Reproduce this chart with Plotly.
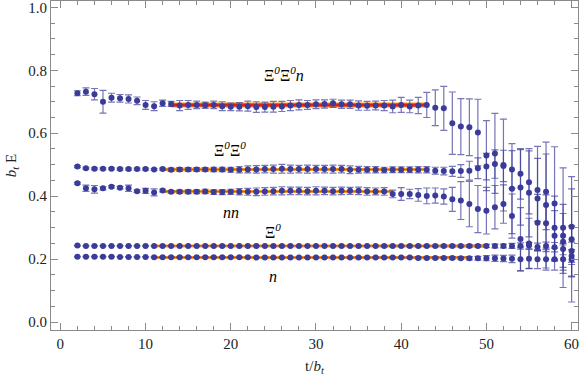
import plotly.graph_objects as go

# time slices
t = [2, 3, 4, 5, 6, 7, 8, 9, 10, 11, 12, 13, 14, 15, 16, 17, 18, 19, 20, 21,
     22, 23, 24, 25, 26, 27, 28, 29, 30, 31, 32, 33, 34, 35, 36, 37, 38, 39, 40, 41,
     42, 43, 44, 45, 46, 47, 48, 49, 50, 51, 52, 53, 54, 55, 56, 57, 58, 59, 60]

# Xi0 Xi0 n
xxn = [0.727, 0.732, 0.724, 0.700, 0.713, 0.711, 0.709, 0.703, 0.690, 0.686,
       0.695, 0.693, 0.688, 0.690, 0.690, 0.689, 0.690, 0.686, 0.684, 0.684,
       0.686, 0.683, 0.683, 0.684, 0.685, 0.688, 0.690, 0.690, 0.692, 0.693,
       0.695, 0.692, 0.692, 0.688, 0.687, 0.688, 0.688, 0.685, 0.690, 0.685,
       0.688, 0.690, 0.681, 0.679, 0.632, 0.621, 0.619, 0.602, 0.529, 0.536,
       0.499, 0.424, 0.428, 0.411, 0.393, 0.372, 0.377, 0.300, 0.263]
xxn_err = [0.008, 0.012, 0.018, 0.036, 0.014, 0.012, 0.013, 0.012, 0.014, 0.014,
           0.010, 0.008, 0.016, 0.014, 0.012, 0.010, 0.012, 0.014, 0.012, 0.013,
           0.016, 0.017, 0.016, 0.017, 0.016, 0.016, 0.016, 0.014, 0.014, 0.013,
           0.013, 0.013, 0.013, 0.015, 0.014, 0.014, 0.016, 0.020, 0.024, 0.020,
           0.026, 0.040, 0.057, 0.070, 0.099, 0.089, 0.090, 0.106, 0.111, 0.127,
           0.146, 0.143, 0.120, 0.140, 0.165, 0.200, 0.180, 0.190, 0.199]

# Xi0 Xi0
xx = [0.494, 0.489, 0.487, 0.487, 0.487, 0.486, 0.486, 0.486, 0.486, 0.485,
      0.486, 0.484, 0.485, 0.485, 0.485, 0.485, 0.485, 0.485, 0.484, 0.484,
      0.485, 0.485, 0.486, 0.486, 0.487, 0.486, 0.486, 0.486, 0.486, 0.486,
      0.486, 0.486, 0.484, 0.484, 0.484, 0.484, 0.483, 0.484, 0.484, 0.484,
      0.484, 0.484, 0.481, 0.480, 0.479, 0.480, 0.481, 0.489, 0.494, 0.502,
      0.496, 0.485, 0.471, 0.444, 0.420, 0.414, 0.300, 0.274, 0.303]
xx_err = [0.003, 0.003, 0.003, 0.003, 0.003, 0.003, 0.003, 0.003, 0.003, 0.003,
          0.003, 0.005, 0.006, 0.006, 0.006, 0.006, 0.007, 0.007, 0.008, 0.010,
          0.011, 0.012, 0.012, 0.013, 0.014, 0.013, 0.012, 0.013, 0.012, 0.012,
          0.013, 0.012, 0.012, 0.011, 0.010, 0.010, 0.009, 0.009, 0.009, 0.009,
          0.010, 0.010, 0.011, 0.012, 0.016, 0.020, 0.030, 0.033, 0.042, 0.045,
          0.050, 0.060, 0.080, 0.100, 0.100, 0.120, 0.100, 0.100, 0.120]

# n n
nn = [0.441, 0.425, 0.422, 0.425, 0.430, 0.427, 0.425, 0.416, 0.417, 0.412,
      0.418, 0.414, 0.414, 0.414, 0.414, 0.415, 0.413, 0.413, 0.414, 0.414,
      0.414, 0.414, 0.415, 0.416, 0.417, 0.417, 0.417, 0.416, 0.417, 0.417,
      0.416, 0.417, 0.417, 0.417, 0.415, 0.415, 0.415, 0.407, 0.407, 0.407,
      0.404, 0.401, 0.402, 0.399, 0.390, 0.386, 0.375, 0.359, 0.354, 0.365,
      0.375, 0.337, 0.264, 0.250, 0.316, 0.314, 0.274, 0.255, 0.226]
nn_err = [0.003, 0.010, 0.012, 0.005, 0.004, 0.004, 0.010, 0.004, 0.008, 0.011,
          0.004, 0.004, 0.005, 0.006, 0.006, 0.007, 0.007, 0.008, 0.008, 0.010,
          0.011, 0.012, 0.012, 0.012, 0.013, 0.012, 0.012, 0.012, 0.013, 0.012,
          0.012, 0.012, 0.011, 0.012, 0.012, 0.011, 0.012, 0.012, 0.020, 0.015,
          0.020, 0.025, 0.024, 0.024, 0.038, 0.060, 0.072, 0.075, 0.074, 0.069,
          0.061, 0.070, 0.100, 0.080, 0.090, 0.090, 0.080, 0.090, 0.080]

# Xi0
x0 = [0.243, 0.242, 0.242, 0.242, 0.242, 0.242, 0.242, 0.242, 0.242, 0.242,
      0.242, 0.242, 0.242, 0.242, 0.242, 0.242, 0.242, 0.242, 0.242, 0.242,
      0.242, 0.242, 0.242, 0.242, 0.242, 0.242, 0.242, 0.242, 0.242, 0.242,
      0.242, 0.242, 0.242, 0.242, 0.242, 0.242, 0.242, 0.242, 0.242, 0.242,
      0.242, 0.242, 0.242, 0.242, 0.242, 0.242, 0.242, 0.242, 0.242, 0.242,
      0.242, 0.242, 0.242, 0.243, 0.239, 0.242, 0.238, 0.232, 0.210]
x0_err = [0.001, 0.001, 0.001, 0.001, 0.001, 0.001, 0.001, 0.001, 0.001, 0.001,
          0.001, 0.001, 0.001, 0.001, 0.001, 0.001, 0.001, 0.001, 0.001, 0.001,
          0.001, 0.001, 0.001, 0.001, 0.001, 0.001, 0.001, 0.001, 0.001, 0.001,
          0.001, 0.001, 0.001, 0.001, 0.001, 0.001, 0.002, 0.002, 0.002, 0.002,
          0.002, 0.002, 0.002, 0.003, 0.003, 0.003, 0.004, 0.004, 0.005, 0.006,
          0.006, 0.008, 0.010, 0.010, 0.012, 0.012, 0.015, 0.018, 0.020]

# n
n1 = [0.208, 0.208, 0.208, 0.208, 0.208, 0.207, 0.207, 0.207, 0.207, 0.206,
      0.206, 0.206, 0.206, 0.206, 0.206, 0.206, 0.206, 0.206, 0.206, 0.206,
      0.206, 0.205, 0.205, 0.205, 0.205, 0.205, 0.205, 0.205, 0.205, 0.205,
      0.205, 0.205, 0.205, 0.205, 0.205, 0.205, 0.205, 0.205, 0.205, 0.205,
      0.204, 0.204, 0.204, 0.204, 0.204, 0.203, 0.203, 0.203, 0.203, 0.203,
      0.202, 0.201, 0.200, 0.201, 0.200, 0.200, 0.200, 0.200, 0.199]
n1_err = [0.001, 0.001, 0.001, 0.001, 0.001, 0.001, 0.001, 0.001, 0.001, 0.001,
          0.001, 0.001, 0.001, 0.001, 0.001, 0.001, 0.001, 0.001, 0.001, 0.001,
          0.001, 0.001, 0.001, 0.001, 0.001, 0.001, 0.001, 0.001, 0.001, 0.001,
          0.001, 0.001, 0.002, 0.002, 0.002, 0.002, 0.002, 0.002, 0.002, 0.002,
          0.003, 0.003, 0.003, 0.003, 0.004, 0.004, 0.005, 0.006, 0.008, 0.010,
          0.010, 0.012, 0.038, 0.030, 0.030, 0.035, 0.035, 0.045, 0.055]

# plateau fits: (value, t_start, t_end)
fit_xxn = [0.690, 13, 43]
fit_xx = [0.485, 12, 43]
fit_nn = [0.415, 12, 39]
fit_x0 = [0.2422, 11, 50]
fit_n1 = [0.2055, 11, 48]

# labels: (text, t, y)
labels = [
    ("Ξ<sup><i>0</i></sup>Ξ<sup><i>0</i></sup><i>n</i>", 26.3, 0.787),
    ("Ξ<sup><i>0</i></sup>Ξ<sup><i>0</i></sup>", 19.9, 0.550),
    ("<i>nn</i>", 20.0, 0.347),
    ("Ξ<sup><i>0</i></sup>", 24.9, 0.290),
    ("<i>n</i>", 25.0, 0.144),
]

dot = '#3b3b99'
bar = 'rgba(59,59,153,0.7)'
font = '"Liberation Serif", "Times New Roman", serif'

fig = go.Figure()

for f, main in [(fit_xxn, True), (fit_xx, False), (fit_nn, False), (fit_x0, False), (fit_n1, False)]:
    fig.add_trace(go.Scatter(x=[f[1], f[2]], y=[f[0], f[0]], mode='lines',
                             line=dict(color='#ff9a1a', width=5 if main else 3),
                             showlegend=False, hoverinfo='skip'))
    fig.add_trace(go.Scatter(x=[f[1], f[2]], y=[f[0], f[0]], mode='lines',
                             line=dict(color='#e61e14' if main else '#d9620f', width=3 if main else 1),
                             showlegend=False, hoverinfo='skip'))

for ys, es in [(xxn, xxn_err), (xx, xx_err), (nn, nn_err), (x0, x0_err), (n1, n1_err)]:
    fig.add_trace(go.Scatter(x=t, y=ys, mode='markers',
                             marker=dict(color=dot, size=6),
                             error_y=dict(type='data', array=es, color=bar, thickness=1.2, width=3.5),
                             showlegend=False))

for txt, lx, ly in labels:
    fig.add_annotation(x=lx, y=ly, text=txt, showarrow=False,
                       font=dict(family=font, size=16, color='black'))

axis_common = dict(showline=True, linecolor='#8a8a8a', linewidth=1, mirror='ticks',
                   ticks='inside', tickcolor='#8a8a8a', showgrid=False, zeroline=False,
                   automargin=False, ticklabeloverflow='allow',
                   tickfont=dict(family=font, size=15, color='#222'))

fig.update_xaxes(range=[-1.1, 60.75], dtick=10, tick0=0, ticklen=7,
                 minor=dict(dtick=2, tick0=0, ticklen=4, ticks='inside', tickcolor='#8a8a8a'),
                 title=dict(text='t/<i>b</i><sub><i>t</i></sub>', font=dict(family=font, size=15, color='#222'),
                            standoff=11),
                 **axis_common)
fig.update_yaxes(range=[-0.025, 1.02], dtick=0.2, tick0=0, tickformat='.1f', ticklen=7,
                 minor=dict(dtick=0.05, tick0=0, ticklen=4, ticks='inside', tickcolor='#8a8a8a'),
                 title=dict(text='<i>b</i><sub><i>t</i></sub> E', font=dict(family=font, size=15, color='#222'),
                            standoff=8),
                 **axis_common)

fig.update_layout(width=581, height=376, margin=dict(l=51, r=3, t=1, b=46),
                  plot_bgcolor='white', paper_bgcolor='white',
                  font=dict(family=font))

# page has a default 8px body margin; drop it so the figure sits at the window origin
fig.write_html("out.html", config={'displayModeBar': False},
               post_script="document.body.style.margin='0';")
